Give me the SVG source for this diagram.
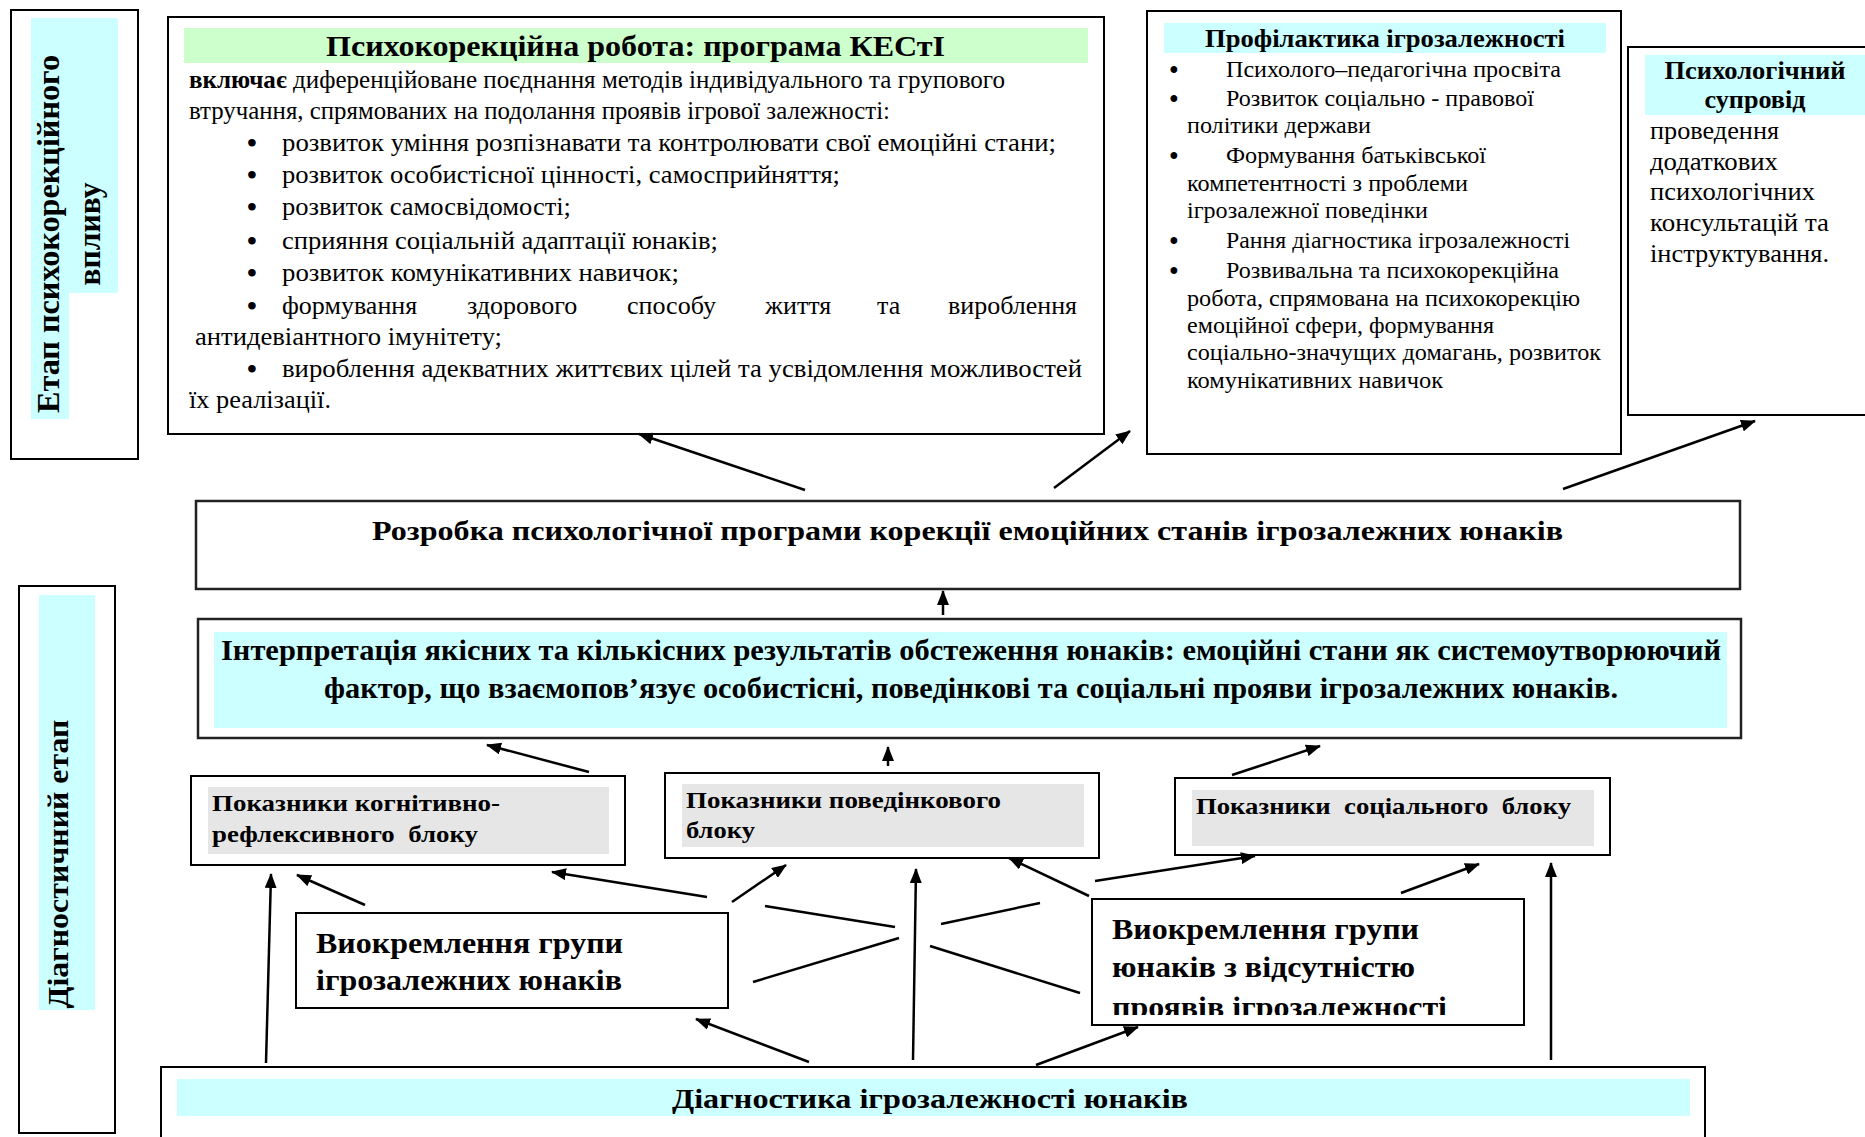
<svg xmlns="http://www.w3.org/2000/svg" width="1865" height="1137" viewBox="0 0 1865 1137">
<style>
text{font-family:"Liberation Serif","Times New Roman",serif;fill:#000}
.b{font-weight:bold}
.box{fill:#fff;stroke:#000;stroke-width:2}
.box2{fill:#fff;stroke:#222;stroke-width:2.5}
.cy{fill:#ccffff}
.gr{fill:#ccffcc}
.gy{fill:#e6e6e6}
.t26{font-size:26px}
.t24{font-size:24px}
.bul{font-size:28px;font-weight:bold}
.bul2{font-size:25px;font-weight:bold}
.lbl{font-size:23px;font-weight:bold}
.con line{stroke:#000;stroke-width:2.5}
.con .a{marker-end:url(#ah)}
</style>
<defs>
<marker id="ah" viewBox="0 0 15 12" refX="14" refY="6" markerWidth="15" markerHeight="12" markerUnits="userSpaceOnUse" orient="auto">
<path d="M0,0 L15,6 L0,12 z" fill="#000"/>
</marker>
<clipPath id="clipG2"><rect x="1092" y="900" width="430" height="115"/></clipPath>
</defs>
<rect width="1865" height="1137" fill="#fff"/>

<g id="stage-correction">
<rect class="box" x="11" y="10" width="127" height="449"/>
<rect class="cy" x="31" y="18" width="87" height="275"/>
<rect class="cy" x="31" y="292" width="38" height="127"/>
<text class="b" font-size="32" transform="translate(59,234) rotate(-90)" text-anchor="middle" textLength="358" lengthAdjust="spacingAndGlyphs">Етап психокорекційного</text>
<text class="b" font-size="32" transform="translate(100,234) rotate(-90)" text-anchor="middle" textLength="103" lengthAdjust="spacingAndGlyphs">впливу</text>
</g>

<g id="stage-diagnostic">
<rect class="box" x="19" y="586" width="96" height="547"/>
<rect class="cy" x="39" y="595" width="56" height="415"/>
<text class="b" font-size="30" transform="translate(68,864) rotate(-90)" text-anchor="middle" textLength="289" lengthAdjust="spacingAndGlyphs">Діагностичний етап</text>
</g>

<g id="psychocorrection">
<rect class="box" x="168" y="17" width="936" height="417"/>
<rect class="gr" x="184" y="28" width="904" height="35"/>
<text class="b" font-size="30" x="326" y="56" textLength="619" lengthAdjust="spacingAndGlyphs">Психокорекційна робота: програма КЕСтІ</text>
<text class="t26" x="189" y="88" textLength="816" lengthAdjust="spacingAndGlyphs"><tspan class="b">включає</tspan> диференційоване поєднання методів індивідуального та групового</text>
<text class="t26" x="189" y="119" textLength="701" lengthAdjust="spacingAndGlyphs">втручання, спрямованих на подолання проявів ігрової залежності:</text>
<g class="bul" text-anchor="middle">
<text x="252" y="152">•</text><text x="252" y="184">•</text><text x="252" y="216">•</text>
<text x="252" y="250">•</text><text x="252" y="282">•</text><text x="252" y="315">•</text>
<text x="252" y="378">•</text>
</g>
<text class="t26" x="282" y="151" textLength="774" lengthAdjust="spacingAndGlyphs">розвиток уміння розпізнавати та контролювати свої емоційні стани;</text>
<text class="t26" x="282" y="183" textLength="558" lengthAdjust="spacingAndGlyphs">розвиток особистісної цінності, самосприйняття;</text>
<text class="t26" x="282" y="215" textLength="289" lengthAdjust="spacingAndGlyphs">розвиток самосвідомості;</text>
<text class="t26" x="282" y="249" textLength="436" lengthAdjust="spacingAndGlyphs">сприяння соціальній адаптації юнаків;</text>
<text class="t26" x="282" y="281" textLength="397" lengthAdjust="spacingAndGlyphs">розвиток комунікативних навичок;</text>
<text class="t26" y="314"><tspan x="282">формування</tspan><tspan x="467">здорового</tspan><tspan x="627">способу</tspan><tspan x="765">життя</tspan><tspan x="877">та</tspan><tspan x="948">вироблення</tspan></text>
<text class="t26" x="195" y="345" textLength="307" lengthAdjust="spacingAndGlyphs">антидевіантного імунітету;</text>
<text class="t26" x="282" y="377" textLength="800" lengthAdjust="spacingAndGlyphs">вироблення адекватних життєвих цілей та усвідомлення можливостей</text>
<text class="t26" x="189" y="408" textLength="142" lengthAdjust="spacingAndGlyphs">їх реалізації.</text>
</g>

<g id="prevention">
<rect class="box" x="1147" y="11" width="474" height="443"/>
<rect class="cy" x="1164" y="23" width="442" height="30"/>
<text class="b" font-size="25" x="1205" y="47" textLength="360" lengthAdjust="spacingAndGlyphs">Профілактика ігрозалежності</text>
<g class="bul2" text-anchor="middle">
<text x="1174" y="78">•</text><text x="1174" y="107">•</text><text x="1174" y="164">•</text>
<text x="1174" y="249">•</text><text x="1174" y="279">•</text>
</g>
<text class="t24" x="1226" y="77" textLength="335" lengthAdjust="spacingAndGlyphs">Психолого–педагогічна просвіта</text>
<text class="t24" x="1226" y="106" textLength="308" lengthAdjust="spacingAndGlyphs">Розвиток соціально - правової</text>
<text class="t24" x="1187" y="133" textLength="184" lengthAdjust="spacingAndGlyphs">політики держави</text>
<text class="t24" x="1226" y="163" textLength="260" lengthAdjust="spacingAndGlyphs">Формування батьківської</text>
<text class="t24" x="1187" y="191" textLength="281" lengthAdjust="spacingAndGlyphs">компетентності з проблеми</text>
<text class="t24" x="1187" y="218" textLength="241" lengthAdjust="spacingAndGlyphs">ігрозалежної поведінки</text>
<text class="t24" x="1226" y="248" textLength="344" lengthAdjust="spacingAndGlyphs">Рання діагностика ігрозалежності</text>
<text class="t24" x="1226" y="278" textLength="333" lengthAdjust="spacingAndGlyphs">Розвивальна та психокорекційна</text>
<text class="t24" x="1187" y="306" textLength="393" lengthAdjust="spacingAndGlyphs">робота, спрямована на психокорекцію</text>
<text class="t24" x="1187" y="333" textLength="307" lengthAdjust="spacingAndGlyphs">емоційної сфери, формування</text>
<text class="t24" x="1187" y="360" textLength="414" lengthAdjust="spacingAndGlyphs">соціально-значущих домагань, розвиток</text>
<text class="t24" x="1187" y="388" textLength="256" lengthAdjust="spacingAndGlyphs">комунікативних навичок</text>
</g>

<g id="support">
<rect class="box" x="1628" y="47" width="260" height="368"/>
<rect class="cy" x="1645" y="55" width="230" height="60"/>
<text class="b" font-size="26" x="1755" y="79" text-anchor="middle" textLength="181" lengthAdjust="spacingAndGlyphs">Психологічний</text>
<text class="b" font-size="26" x="1755" y="108" text-anchor="middle" textLength="101" lengthAdjust="spacingAndGlyphs">супровід</text>
<text class="t26" x="1650" y="139" textLength="129" lengthAdjust="spacingAndGlyphs">проведення</text>
<text class="t26" x="1650" y="170" textLength="128" lengthAdjust="spacingAndGlyphs">додаткових</text>
<text class="t26" x="1650" y="200" textLength="165" lengthAdjust="spacingAndGlyphs">психологічних</text>
<text class="t26" x="1650" y="231" textLength="179" lengthAdjust="spacingAndGlyphs">консультацій та</text>
<text class="t26" x="1650" y="262" textLength="179" lengthAdjust="spacingAndGlyphs">інструктування.</text>
</g>

<g id="development">
<rect class="box2" x="196" y="501" width="1544" height="88"/>
<text class="b" font-size="28" x="372" y="540" textLength="1191" lengthAdjust="spacingAndGlyphs">Розробка психологічної програми корекції емоційних станів ігрозалежних юнаків</text>
</g>

<g id="interpretation">
<rect class="box2" x="198" y="619" width="1543" height="119"/>
<rect class="cy" x="214" y="632" width="1513" height="96"/>
<text class="b" font-size="29" x="221" y="660" textLength="1500" lengthAdjust="spacingAndGlyphs">Інтерпретація якісних та кількісних результатів обстеження юнаків: емоційні стани як системоутворюючий</text>
<text class="b" font-size="29" x="324" y="698" textLength="1294" lengthAdjust="spacingAndGlyphs">фактор, що взаємопов’язує особистісні, поведінкові та соціальні прояви ігрозалежних юнаків.</text>
</g>

<g id="cognitive">
<rect class="box" x="191" y="776" width="434" height="89"/>
<rect class="gy" x="208" y="787" width="401" height="67"/>
<text class="lbl" x="212" y="811" textLength="288" lengthAdjust="spacingAndGlyphs">Показники когнітивно-</text>
<text class="lbl" x="212" y="842" textLength="266" lengthAdjust="spacingAndGlyphs" xml:space="preserve">рефлексивного  блоку</text>
</g>

<g id="behavioural">
<rect class="box" x="665" y="773" width="434" height="85"/>
<rect class="gy" x="682" y="784" width="402" height="63"/>
<text class="lbl" x="686" y="808" textLength="315" lengthAdjust="spacingAndGlyphs">Показники поведінкового</text>
<text class="lbl" x="686" y="838" textLength="69" lengthAdjust="spacingAndGlyphs">блоку</text>
</g>

<g id="social">
<rect class="box" x="1175" y="778" width="435" height="77"/>
<rect class="gy" x="1192" y="790" width="402" height="56"/>
<text class="lbl" x="1196" y="814" textLength="375" lengthAdjust="spacingAndGlyphs" xml:space="preserve">Показники  соціального  блоку</text>
</g>

<g id="group-addicted">
<rect class="box" x="296" y="913" width="432" height="95"/>
<text class="b" font-size="30" x="316" y="953" textLength="307" lengthAdjust="spacingAndGlyphs">Виокремлення групи</text>
<text class="b" font-size="30" x="316" y="990" textLength="306" lengthAdjust="spacingAndGlyphs">ігрозалежних юнаків</text>
</g>

<g id="group-non-addicted">
<rect class="box" x="1092" y="899" width="432" height="126"/>
<g clip-path="url(#clipG2)">
<text class="b" font-size="30" x="1112" y="939" textLength="307" lengthAdjust="spacingAndGlyphs">Виокремлення групи</text>
<text class="b" font-size="30" x="1112" y="977" textLength="303" lengthAdjust="spacingAndGlyphs">юнаків з відсутністю</text>
<text class="b" font-size="30" x="1112" y="1017" textLength="335" lengthAdjust="spacingAndGlyphs">проявів ігрозалежності</text>
</g>
</g>

<g id="diagnostics">
<rect class="box" x="161" y="1067" width="1544" height="90"/>
<rect class="cy" x="177" y="1079" width="1513" height="37"/>
<text class="b" font-size="28" x="672" y="1108" textLength="516" lengthAdjust="spacingAndGlyphs">Діагностика ігрозалежності юнаків</text>
</g>

<g id="connectors" class="con">
<line class="a" x1="805" y1="490" x2="639" y2="434"/>
<line class="a" x1="1054" y1="488" x2="1130" y2="431"/>
<line class="a" x1="1563" y1="489" x2="1755" y2="421"/>
<line class="a" x1="943" y1="615" x2="943" y2="591"/>
<line class="a" x1="589" y1="772" x2="487" y2="745"/>
<line class="a" x1="888" y1="766" x2="888" y2="747"/>
<line class="a" x1="1232" y1="775" x2="1320" y2="746"/>
<line class="a" x1="266" y1="1063" x2="271" y2="874"/>
<line class="a" x1="365" y1="905" x2="297" y2="875"/>
<line class="a" x1="707" y1="897" x2="552" y2="872"/>
<line class="a" x1="732" y1="902" x2="786" y2="865"/>
<line class="a" x1="913" y1="1060" x2="916" y2="869"/>
<line class="a" x1="1089" y1="896" x2="1009" y2="858"/>
<line class="a" x1="1095" y1="881" x2="1255" y2="856"/>
<line class="a" x1="1401" y1="893" x2="1479" y2="864"/>
<line class="a" x1="1551" y1="1060" x2="1551" y2="863"/>
<line class="a" x1="809" y1="1062" x2="696" y2="1019"/>
<line class="a" x1="1036" y1="1065" x2="1138" y2="1027"/>
<line x1="765" y1="906" x2="895" y2="927"/>
<line x1="941" y1="924" x2="1040" y2="903"/>
<line x1="753" y1="982" x2="899" y2="938"/>
<line x1="930" y1="946" x2="1080" y2="993"/>
</g>
</svg>
